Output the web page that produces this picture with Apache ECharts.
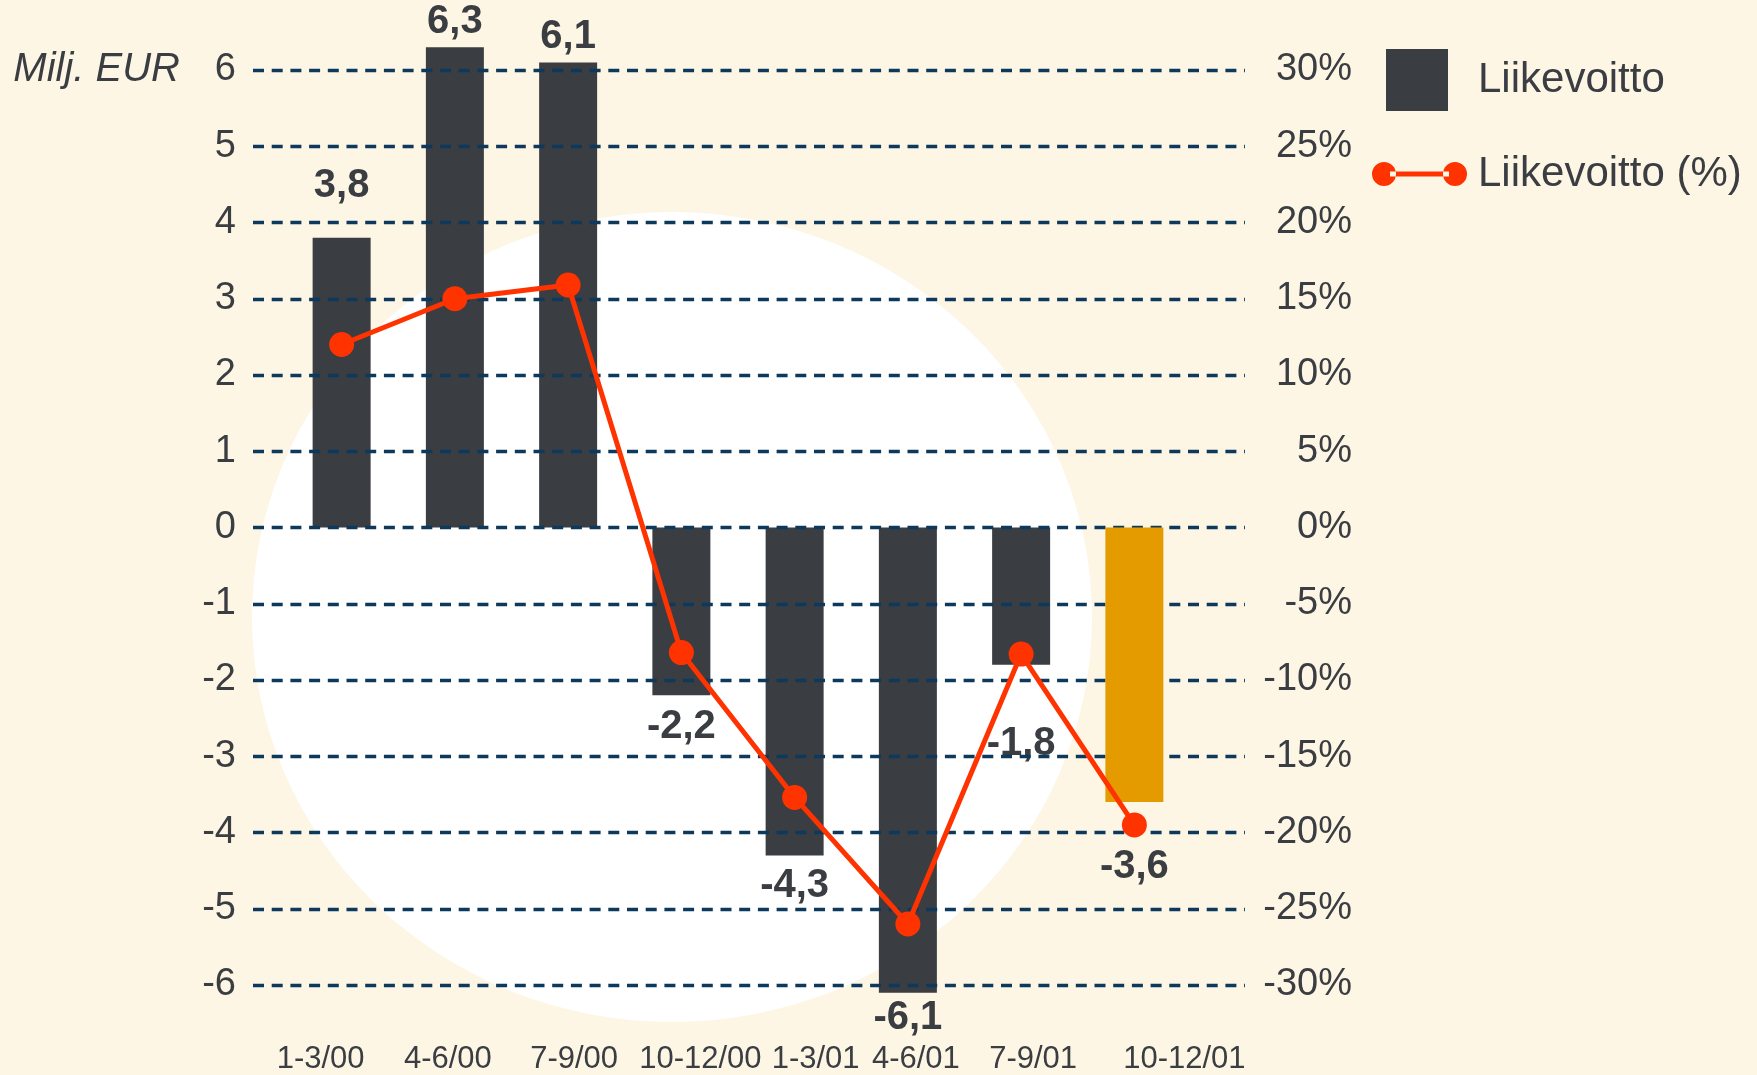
<!DOCTYPE html>
<html>
<head>
<meta charset="utf-8">
<script src="https://cdn.jsdelivr.net/npm/echarts@6/dist/echarts.min.js"></script>
<style>
  html, body { margin: 0; padding: 0; background: #fef6e4; }
  #chart { width: 1757px; height: 1075px; }
</style>
</head>
<body>
<div id="chart"></div>
<script>
// data
const categories = ['1-3/00', '4-6/00', '7-9/00', '10-12/00', '1-3/01', '4-6/01', '7-9/01', '10-12/01'];
const profit = [3.8, 6.3, 6.1, -2.2, -4.3, -6.1, -1.8, -3.6];       // Milj. EUR
const profitPct = [12, 15, 15.9, -8.2, -17.7, -26, -8.3, -19.5];   // %
const leftTicks = [-6, 6, 1];
const rightTicks = [-30, 30, 5];

const FONT = '"Liberation Sans", Arial, sans-serif';
const DARK = '#3a3d42';
const ORANGE = '#e39b00';
const RED = '#ff3300';
const lastIdx = categories.length - 1;

// label distances (bar end -> label) and x-label nudges, tuned by eye
const labelGap = [32, 5, 5, 12, 11, 5, 59, 45];
const tickShift = [-21, -7, 6, 19, 21, 8, 12, 50];

const fmt = v => v.toFixed(1).replace('.', ',');

function barItem(v, i) {
  return {
    value: v,
    label: {
      position: v >= 0 ? 'top' : 'bottom',
      distance: labelGap[i]
    }
  };
}

const darkData = profit.map((v, i) => i === lastIdx ? null : barItem(v, i));
const orangeData = profit.map((v, i) => i === lastIdx ? barItem(v, i) : null);

const barLabel = {
  show: true,
  formatter: p => fmt(p.value),
  fontFamily: FONT,
  fontSize: 40,
  fontWeight: 'bold',
  color: DARK
};

const tickRich = {};
tickShift.forEach((s, i) => {
  tickRich['t' + i] = {
    fontFamily: FONT,
    fontSize: 31,
    color: DARK,
    padding: [0, Math.max(0, -2 * s), 0, Math.max(0, 2 * s)]
  };
});

const chart = echarts.init(document.getElementById('chart'));
const option = {
  backgroundColor: '#fef6e4',
  animation: false,
  textStyle: { fontFamily: FONT },
  graphic: [{
    type: 'circle',
    z: -10,
    shape: { cx: 672, cy: 617, r: 405 },
    scaleX: 1.037,
    originX: 672,
    originY: 617,
    style: { fill: '#ffffff' },
    silent: true
  }],
  legend: [{
    data: ['Liikevoitto'],
    left: 1386,
    top: 49,
    padding: 0,
    itemWidth: 62,
    itemHeight: 62,
    icon: 'rect',
    textStyle: { fontFamily: FONT, fontSize: 42, color: DARK, padding: [0, 0, 0, 25] }
  }, {
    data: [{
      name: 'Liikevoitto (%)',
      icon: 'path://M0,12a12,12 0 1,0 24,0a12,12 0 1,0 -24,0Z M71,12a12,12 0 1,0 24,0a12,12 0 1,0 -24,0Z M18,9.5H77V14.5H18Z'
    }],
    left: 1372,
    top: 153,
    padding: 0,
    itemWidth: 95,
    itemHeight: 24,
    itemStyle: { borderWidth: 0 },
    textStyle: { fontFamily: FONT, fontSize: 42, color: DARK, padding: [0, 0, 0, 6] }
  }],
  grid: [
    // wide grid for the dashed guide lines and the two scales
    { left: 253, right: 1757 - 1245, top: 70, bottom: 90 },
    // inner grid where the bars and the line sit
    { left: 285, right: 566, top: 70, bottom: 90 }
  ],
  xAxis: [
    { gridIndex: 0, type: 'value', show: false, min: 0, max: 1 },
    {
      gridIndex: 1,
      type: 'category',
      data: categories,
      axisLine: { show: false },
      axisTick: { show: false },
      axisLabel: {
        margin: 59,
        fontFamily: FONT,
        fontSize: 31,
        color: DARK,
        interval: 0,
        formatter: (v, i) => '{t' + i + '|' + v + '}',
        rich: tickRich
      }
    }
  ],
  yAxis: [
    {
      gridIndex: 0,
      type: 'value',
      position: 'left',
      min: leftTicks[0],
      max: leftTicks[1],
      interval: leftTicks[2],
      z: 3,
      name: 'Milj. EUR',
      nameLocation: 'end',
      nameGap: 0,
      nameTextStyle: {
        fontFamily: FONT,
        fontSize: 40,
        fontStyle: 'italic',
        color: DARK,
        align: 'right',
        verticalAlign: 'middle',
        padding: [0, 73, 0, 0]
      },
      axisLine: { show: false },
      axisTick: { show: false },
      axisLabel: { margin: 17, fontFamily: FONT, fontSize: 38, color: DARK },
      splitLine: { show: true, lineStyle: { color: '#0d3a5c', width: 3.3, type: [11, 7.7] } }
    },
    {
      gridIndex: 0,
      type: 'value',
      position: 'right',
      min: rightTicks[0],
      max: rightTicks[1],
      interval: rightTicks[2],
      axisLine: { show: false },
      axisTick: { show: false },
      splitLine: { show: false },
      axisLabel: {
        margin: 107,
        align: 'right',
        fontFamily: FONT,
        fontSize: 38,
        color: DARK,
        formatter: '{value}%'
      }
    },
    { gridIndex: 1, type: 'value', show: false, min: leftTicks[0], max: leftTicks[1] },
    { gridIndex: 1, type: 'value', show: false, min: rightTicks[0], max: rightTicks[1] }
  ],
  series: [
    {
      name: 'Liikevoitto',
      type: 'bar',
      xAxisIndex: 1,
      yAxisIndex: 2,
      barWidth: 58,
      barGap: '-100%',
      clip: false,
      z: 2,
      itemStyle: { color: DARK },
      label: barLabel,
      data: darkData
    },
    {
      name: 'Liikevoitto 10-12/01',
      type: 'bar',
      xAxisIndex: 1,
      yAxisIndex: 2,
      barWidth: 58,
      barGap: '-100%',
      clip: false,
      z: 4,
      itemStyle: { color: ORANGE },
      label: barLabel,
      data: orangeData
    },
    {
      name: 'Liikevoitto (%)',
      type: 'line',
      xAxisIndex: 1,
      yAxisIndex: 3,
      z: 5,
      clip: false,
      symbol: 'circle',
      symbolSize: 25,
      color: RED,
      itemStyle: { color: RED },
      lineStyle: { color: RED, width: 5 },
      data: profitPct
    }
  ]
};
chart.setOption(option);
</script>
</body>
</html>
